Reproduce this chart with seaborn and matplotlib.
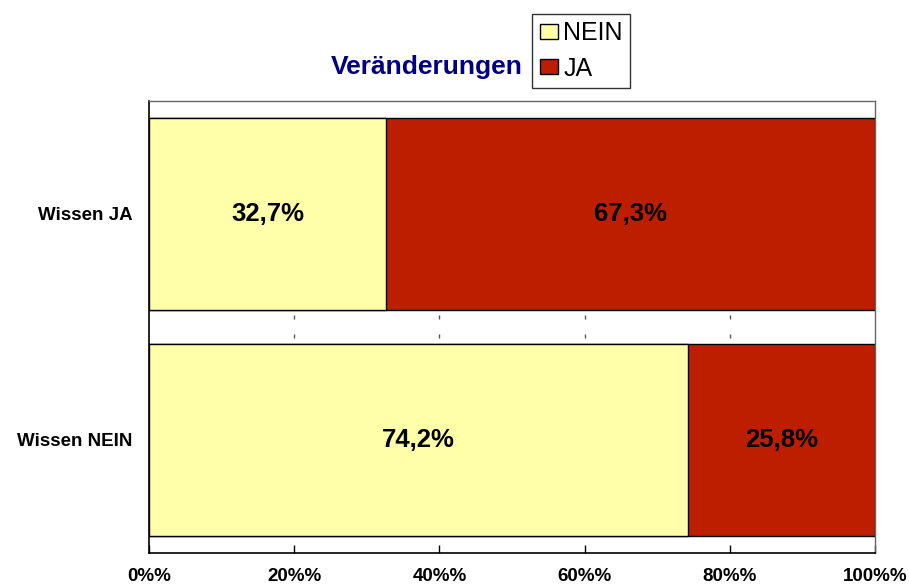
import numpy as np
import pandas as pd
import matplotlib
matplotlib.use("Agg")
import matplotlib.pyplot as plt
import matplotlib.ticker as mticker
from matplotlib.patches import Patch
import seaborn as sns

# Data
categories = ["Wissen JA", "Wissen NEIN"]
nein_vals = [32.7, 74.2]
ja_vals = [67.3, 25.8]
x_ticks = [0, 20, 40, 60, 80, 100]
tick_labels = ["0%%", "20%%", "40%%", "60%%", "80%%", "100%%"]

df = pd.DataFrame({"Kategorie": categories, "NEIN": nein_vals, "JA": ja_vals})
df["Total"] = df["NEIN"] + df["JA"]

# Style
sns.set_theme(style="white")
plt.rcParams["font.family"] = ["Liberation Sans", "DejaVu Sans"]
YELLOW = "#FFFFAA"
RED = "#BE1E00"
NAVY = "#000080"

fig = plt.figure(figsize=(9.09, 5.86), dpi=100)
ax = fig.add_axes([149 / 909, 1 - 553 / 586, (875 - 149) / 909, (553 - 101) / 586])

# stacked bars: full total in red, NEIN on top in yellow
sns.barplot(data=df, y="Kategorie", x="Total", orient="h", color=RED,
            saturation=1, width=0.85, edgecolor="black", linewidth=1, ax=ax)
sns.barplot(data=df, y="Kategorie", x="NEIN", orient="h", color=YELLOW,
            saturation=1, width=0.85, edgecolor="black", linewidth=1, ax=ax)

# value labels
for i, (n, j) in enumerate(zip(nein_vals, ja_vals)):
    ax.text(n / 2, i, f"{n:.1f}%".replace(".", ","), ha="center", va="center",
            fontsize=18.5, fontweight="bold", color="black")
    ax.text(n + j / 2, i, f"{j:.1f}%".replace(".", ","), ha="center", va="center",
            fontsize=18.5, fontweight="bold", color="black")

# small tick marks in the gap between bars
inner = x_ticks[1:-1]
ax.vlines(inner, 0.445, 0.465, color="#555555", linewidth=1)
ax.vlines(inner, 0.53, 0.55, color="#555555", linewidth=1)

ax.set_xlim(0, 100)
ax.set_ylim(1.5, -0.5)
ax.set_xticks(x_ticks)
ax.set_xticklabels(tick_labels, fontsize=13.5, fontweight="bold", color="black")
ax.tick_params(axis="x", direction="in", length=6, width=1, color="black", pad=11,
               bottom=True)
ax.tick_params(axis="y", length=0, pad=12)
for lbl in ax.get_yticklabels():
    lbl.set_fontweight("bold")
    lbl.set_fontsize(13.5)
    lbl.set_color("black")
ax.set_xlabel("")
ax.set_ylabel("")

for side in ["left", "bottom"]:
    ax.spines[side].set_color("black")
    ax.spines[side].set_linewidth(1.2)
for side in ["top", "right"]:
    ax.spines[side].set_color("#666666")
    ax.spines[side].set_linewidth(1)

# title and legend
fig.text(427 / 909, 1 - 67 / 586, "Veränderungen", ha="center", va="center",
         fontsize=19, fontweight="bold", color=NAVY)
handles = [Patch(facecolor=YELLOW, edgecolor="black", label="NEIN"),
           Patch(facecolor=RED, edgecolor="black", label="JA")]
leg = fig.legend(handles=handles, loc="upper left",
                 bbox_to_anchor=(532 / 909, 1 - 14 / 586), fontsize=18,
                 frameon=True, fancybox=False, handlelength=0.75, handleheight=0.55,
                 handletextpad=0.2, borderpad=0.3, labelspacing=0.45,
                 borderaxespad=0, labelcolor="black")
leg.get_frame().set_edgecolor("black")
leg.get_frame().set_linewidth(1)

fig.savefig("out.png", dpi=100)
